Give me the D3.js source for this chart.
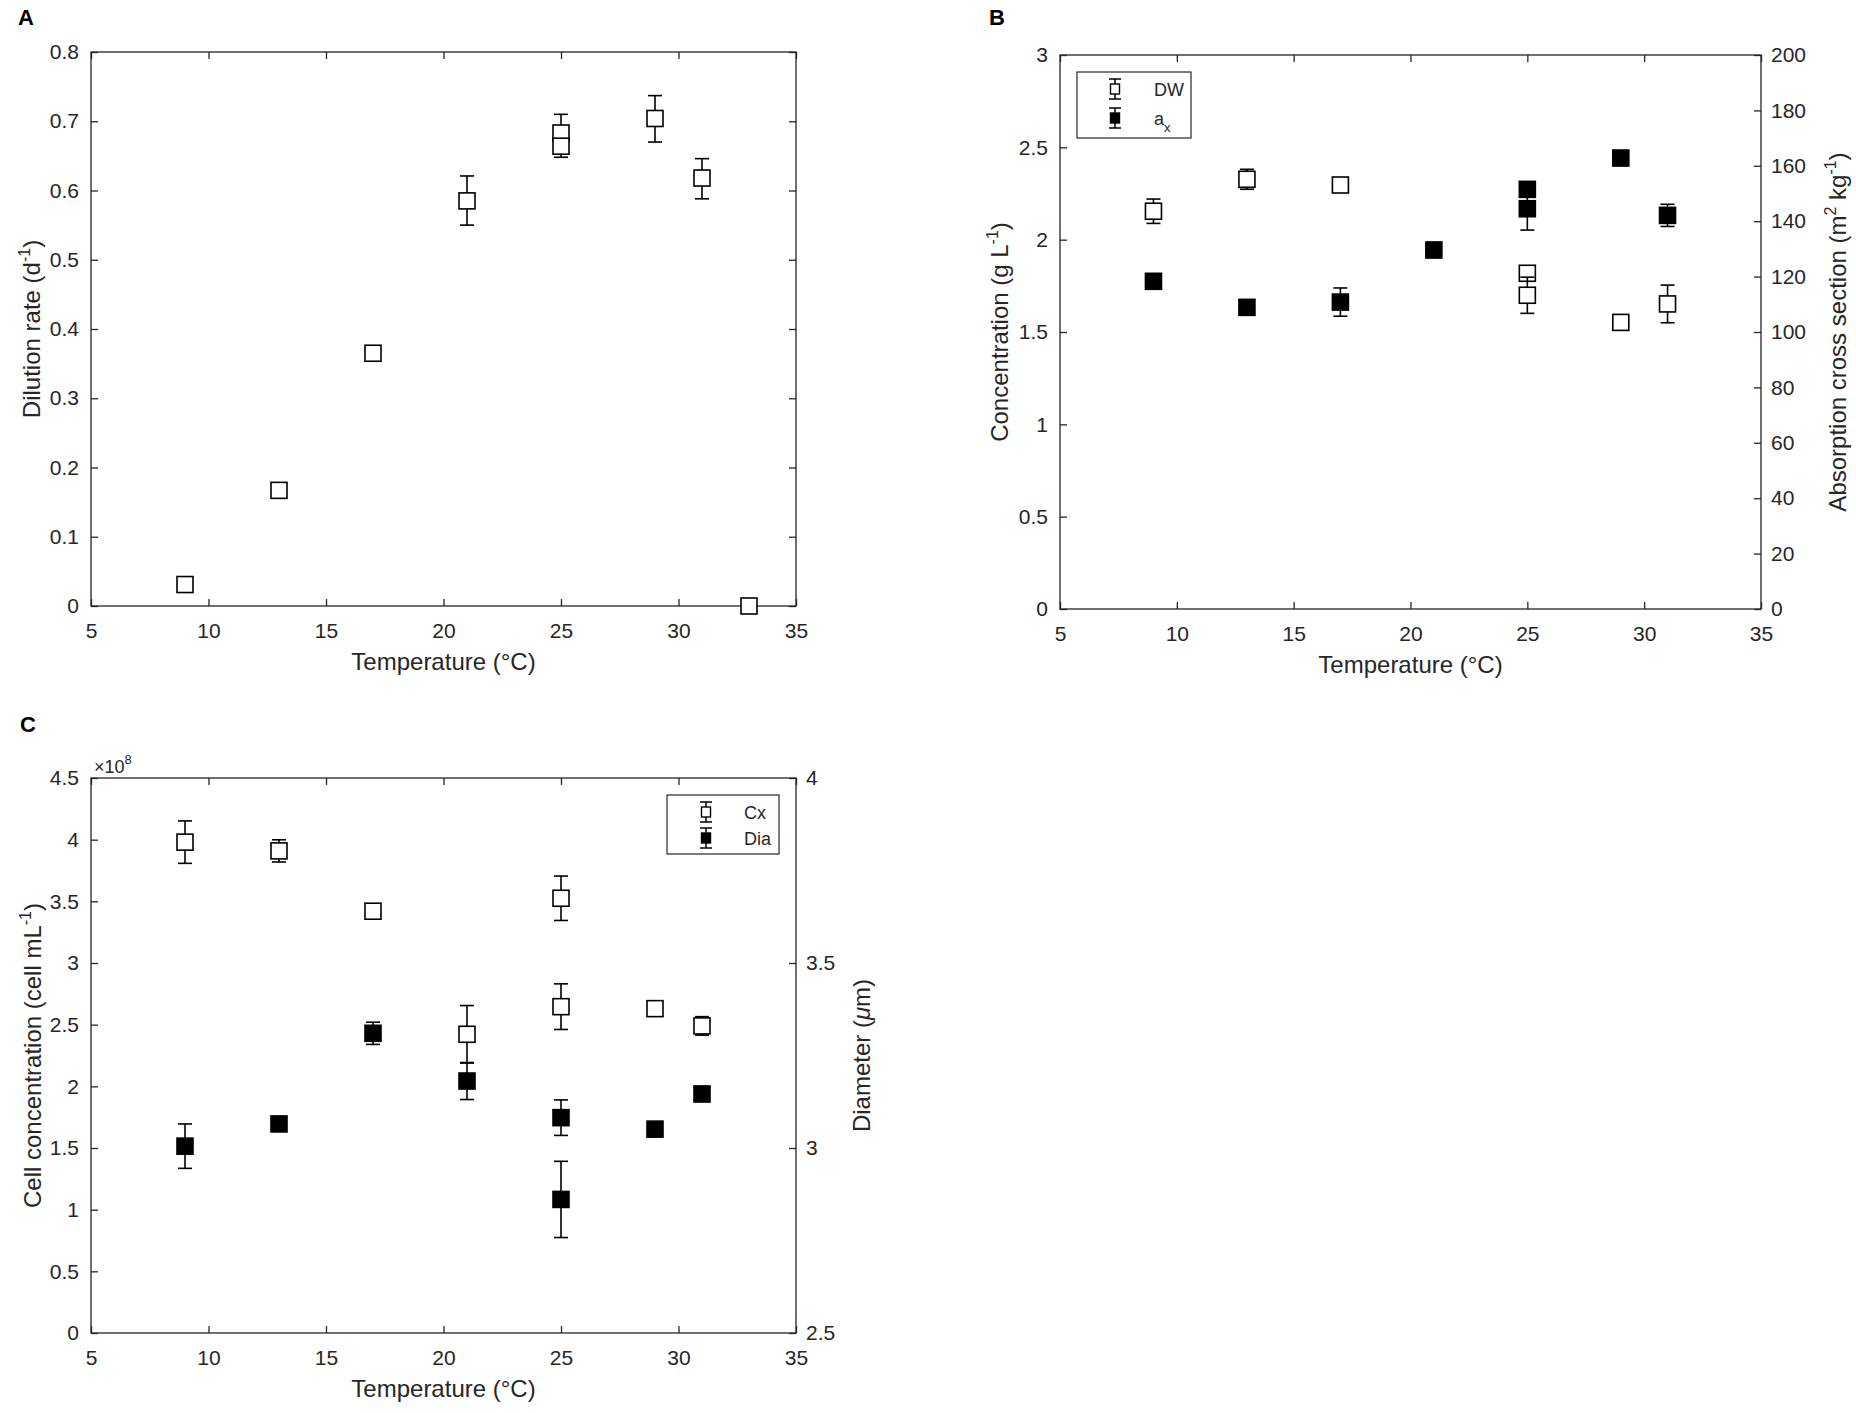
<!DOCTYPE html>
<html><head><meta charset="utf-8">
<script src="https://cdn.jsdelivr.net/npm/d3@7"></script>
<style>
body{margin:0;background:#fff}
text{font-family:"Liberation Sans",Arial,Helvetica,sans-serif}
</style>
</head><body>
<svg id="chart" width="1856" height="1413"></svg>
<script>
// ---------- tick labels ----------
const xTicks = [5,10,15,20,25,30,35];
const aYTicks = [0,0.1,0.2,0.3,0.4,0.5,0.6,0.7,0.8];
const bYTicks = [0,0.5,1,1.5,2,2.5,3];
const bY2Ticks = [0,20,40,60,80,100,120,140,160,180,200];
const cYTicks = [0,0.5,1,1.5,2,2.5,3,3.5,4,4.5];
const cY2Ticks = [2.5,3,3.5,4];

// ---------- Panel A: dilution rate ----------
const aTemp    = [9, 13, 17, 21, 25, 25, 29, 31, 33];
const aRate    = [0.031, 0.167, 0.365, 0.585, 0.683, 0.664, 0.704, 0.618, 0.0];
const aErrUp   = [0.010, 0.003, 0.010, 0.036, 0.027, 0.005, 0.033, 0.028, 0.0];
const aErrDown = [0.005, 0.003, 0.006, 0.035, 0.005, 0.016, 0.034, 0.030, 0.0];

// ---------- Panel B: DW (left) and a_x (right) ----------
const bDWTemp = [9, 13, 17, 25, 25, 29, 31];
const bDW     = [2.154, 2.327, 2.296, 1.818, 1.699, 1.552, 1.652];
const bDWErr  = [0.066, 0.054, 0.008, 0.020, 0.098, 0.035, 0.102];
const bAxTemp = [9, 13, 17, 21, 25, 25, 29, 31];
const bAx     = [118.3, 108.9, 110.8, 129.6, 151.5, 144.5, 162.8, 142.1];
const bAxErr  = [1.0, 1.0, 5.1, 2.7, 1.0, 7.7, 1.0, 4.0];

// ---------- Panel C: Cx (left, x1e8) and Dia (right) ----------
const cTemp   = [9, 13, 17, 21, 25, 25, 29, 31];
const cCx     = [3.98, 3.909, 3.42, 2.422, 3.525, 2.646, 2.63, 2.49];
const cCxErr  = [0.172, 0.09, 0.02, 0.233, 0.18, 0.185, 0.03, 0.075];
const cDia    = [3.005, 3.065, 3.31, 3.181, 3.082, 2.861, 3.051, 3.146];
const cDiaErr = [0.06, 0.005, 0.03, 0.05, 0.048, 0.103, 0.005, 0.02];

const INK = "#262626";
const svg = d3.select("#chart");

function styleAxis(sel){
  sel.select(".domain").remove();
  sel.selectAll(".tick line").attr("stroke", INK).attr("stroke-width", 1.3);
  sel.selectAll(".tick text").attr("fill", INK).style("font-size","21px")
     .style("font-family",'"Liberation Sans",Arial,sans-serif');
}

function drawSeries(g, x, y, temps, vals, errUp, errDown, filled){
  const idx = d3.range(temps.length);
  const pts = g.append("g").selectAll("g").data(idx).join("g");
  const cap = 7;
  pts.append("line")
    .attr("x1", i => x(temps[i])).attr("x2", i => x(temps[i]))
    .attr("y1", i => y(vals[i] - errDown[i])).attr("y2", i => y(vals[i] + errUp[i]))
    .attr("stroke", "#000").attr("stroke-width", 1.6);
  pts.append("line")
    .attr("x1", i => x(temps[i]) - cap).attr("x2", i => x(temps[i]) + cap)
    .attr("y1", i => y(vals[i] + errUp[i])).attr("y2", i => y(vals[i] + errUp[i]))
    .attr("stroke", "#000").attr("stroke-width", 1.6);
  pts.append("line")
    .attr("x1", i => x(temps[i]) - cap).attr("x2", i => x(temps[i]) + cap)
    .attr("y1", i => y(vals[i] - errDown[i])).attr("y2", i => y(vals[i] - errDown[i]))
    .attr("stroke", "#000").attr("stroke-width", 1.6);
  const s = 16;
  pts.append("rect")
    .attr("x", i => x(temps[i]) - s/2).attr("y", i => y(vals[i]) - s/2)
    .attr("width", s).attr("height", s)
    .attr("fill", filled ? "#000" : "#fff")
    .attr("stroke", "#000").attr("stroke-width", 1.6);
}

function drawPanel(cfg){
  const g = svg.append("g");
  const x = d3.scaleLinear().domain([5,35]).range([cfg.left, cfg.right]);
  const y = d3.scaleLinear().domain(cfg.yDomain).range([cfg.bottom, cfg.top]);
  const y2 = cfg.y2Domain ? d3.scaleLinear().domain(cfg.y2Domain).range([cfg.bottom, cfg.top]) : null;

  g.append("g").attr("transform", `translate(0,${cfg.bottom})`)
    .call(d3.axisBottom(x).tickValues(xTicks).tickSizeInner(-7).tickSizeOuter(0).tickPadding(17))
    .call(styleAxis);
  g.append("g").attr("transform", `translate(0,${cfg.top})`)
    .call(d3.axisTop(x).tickValues(xTicks).tickSizeInner(-7).tickSizeOuter(0).tickFormat(""))
    .call(styleAxis);
  g.append("g").attr("transform", `translate(${cfg.left},0)`)
    .call(d3.axisLeft(y).tickValues(cfg.yTicks).tickSizeInner(-7).tickSizeOuter(0).tickPadding(12).tickFormat(d => String(d)))
    .call(styleAxis);
  if (y2){
    g.append("g").attr("transform", `translate(${cfg.right},0)`)
      .call(d3.axisRight(y2).tickValues(cfg.y2Ticks).tickSizeInner(-7).tickSizeOuter(0).tickPadding(10).tickFormat(d => String(d)))
      .call(styleAxis);
  } else {
    g.append("g").attr("transform", `translate(${cfg.right},0)`)
      .call(d3.axisRight(y).tickValues(cfg.yTicks).tickSizeInner(-7).tickSizeOuter(0).tickFormat(""))
      .call(styleAxis);
  }
  g.append("rect").attr("x", cfg.left).attr("y", cfg.top)
    .attr("width", cfg.right - cfg.left).attr("height", cfg.bottom - cfg.top)
    .attr("fill", "none").attr("stroke", INK).attr("stroke-width", 1.3);

  // x label
  g.append("text").attr("x", (cfg.left + cfg.right)/2).attr("y", cfg.bottom + 64)
    .attr("text-anchor","middle").attr("fill", INK).style("font-size","24px")
    .text("Temperature (°C)");
  // panel letter
  g.append("text").attr("x", cfg.letterX).attr("y", cfg.letterY)
    .attr("fill","#000").style("font-size","22px").style("font-weight","bold").text(cfg.letter);

  // y labels
  const addRot = (bx, cy, parts) => {
    const t = g.append("text").attr("transform", `translate(${bx},${cy}) rotate(-90)`)
      .attr("text-anchor","middle").attr("fill", INK).style("font-size","24px");
    parts.forEach(p => {
      const ts = t.append("tspan").text(p.t);
      if (p.sup) ts.style("font-size","16px").attr("dy", -10);
      if (p.after) ts.attr("dy", 10);
      if (p.it) ts.style("font-style","italic");
    });
  };
  addRot(cfg.yLabelX, (cfg.top + cfg.bottom)/2, cfg.yLabel);
  if (cfg.y2Label) addRot(cfg.y2LabelX, (cfg.top + cfg.bottom)/2, cfg.y2Label);

  cfg.series.forEach(s => drawSeries(g, x, s.right ? y2 : y, s.t, s.v, s.up, s.down, s.filled));

  if (cfg.legend){
    const L = cfg.legend;
    g.append("rect").attr("x", L.x).attr("y", L.y).attr("width", L.w).attr("height", L.h)
      .attr("fill","#fff").attr("stroke", INK).attr("stroke-width", 1.2);
    L.items.forEach(it => {
      const mx = L.markX, my = it.cy;
      g.append("line").attr("x1", mx).attr("x2", mx).attr("y1", my-10).attr("y2", my+10).attr("stroke","#000").attr("stroke-width",1.5);
      [my-10, my+10].forEach(yy => g.append("line").attr("x1", mx-6).attr("x2", mx+6).attr("y1", yy).attr("y2", yy).attr("stroke","#000").attr("stroke-width",1.5));
      g.append("rect").attr("x", mx-4.5).attr("y", my-5).attr("width", 9).attr("height", 10)
        .attr("fill", it.filled ? "#000" : "#fff").attr("stroke","#000").attr("stroke-width",1.4);
      const t = g.append("text").attr("x", L.textX).attr("y", my + 6.5).attr("fill", INK).style("font-size","18px");
      t.append("tspan").text(it.label);
      if (it.sub) t.append("tspan").text(it.sub).style("font-size","13px").attr("dy", 7);
    });
  }
  return {x, y, y2};
}

// Panel A
drawPanel({
  left: 91, right: 796, top: 52, bottom: 606,
  yDomain: [0, 0.8], yTicks: aYTicks,
  letter: "A", letterX: 18, letterY: 25,
  yLabelX: 40, yLabel: [{t:"Dilution rate (d"},{t:"-1", sup:true},{t:")", after:true}],
  series: [{t: aTemp, v: aRate, up: aErrUp, down: aErrDown, filled: false}]
});

// Panel B
drawPanel({
  left: 1060, right: 1761, top: 55, bottom: 609,
  yDomain: [0, 3], yTicks: bYTicks,
  y2Domain: [0, 200], y2Ticks: bY2Ticks,
  letter: "B", letterX: 989, letterY: 25,
  yLabelX: 1008, yLabel: [{t:"Concentration (g L"},{t:"-1", sup:true},{t:")", after:true}],
  y2LabelX: 1846, y2Label: [{t:"Absorption cross section (m"},{t:"2", sup:true},{t:" kg", after:true},{t:"-1", sup:true},{t:")", after:true}],
  series: [
    {t: bDWTemp, v: bDW, up: bDWErr, down: bDWErr, filled: false},
    {t: bAxTemp, v: bAx, up: bAxErr, down: bAxErr, filled: true, right: true}
  ],
  legend: {x: 1077, y: 72, w: 114, h: 66, markX: 1115, textX: 1154,
           items: [{label:"DW", cy: 89, filled:false}, {label:"a", sub:"x", cy: 118, filled:true}]}
});

// Panel C
drawPanel({
  left: 91, right: 796, top: 778, bottom: 1333,
  yDomain: [0, 4.5], yTicks: cYTicks,
  y2Domain: [2.5, 4], y2Ticks: cY2Ticks,
  letter: "C", letterX: 20, letterY: 732,
  yLabelX: 41, yLabel: [{t:"Cell concentration (cell mL"},{t:"-1", sup:true},{t:")", after:true}],
  y2LabelX: 870, y2Label: [{t:"Diameter ("},{t:"μ", it:true},{t:"m)"}],
  series: [
    {t: cTemp, v: cCx, up: cCxErr, down: cCxErr, filled: false},
    {t: cTemp, v: cDia, up: cDiaErr, down: cDiaErr, filled: true, right: true}
  ],
  legend: {x: 667, y: 795, w: 112, h: 59, markX: 706, textX: 744,
           items: [{label:"Cx", cy: 812, filled:false}, {label:"Dia", cy: 838, filled:true}]}
});

// exponent label for panel C
const ex = svg.append("text").attr("x", 94).attr("y", 773).attr("fill", INK).style("font-size","18px");
ex.append("tspan").text("×10");
ex.append("tspan").text("8").style("font-size","13px").attr("dy", -9);
</script>
</body></html>
